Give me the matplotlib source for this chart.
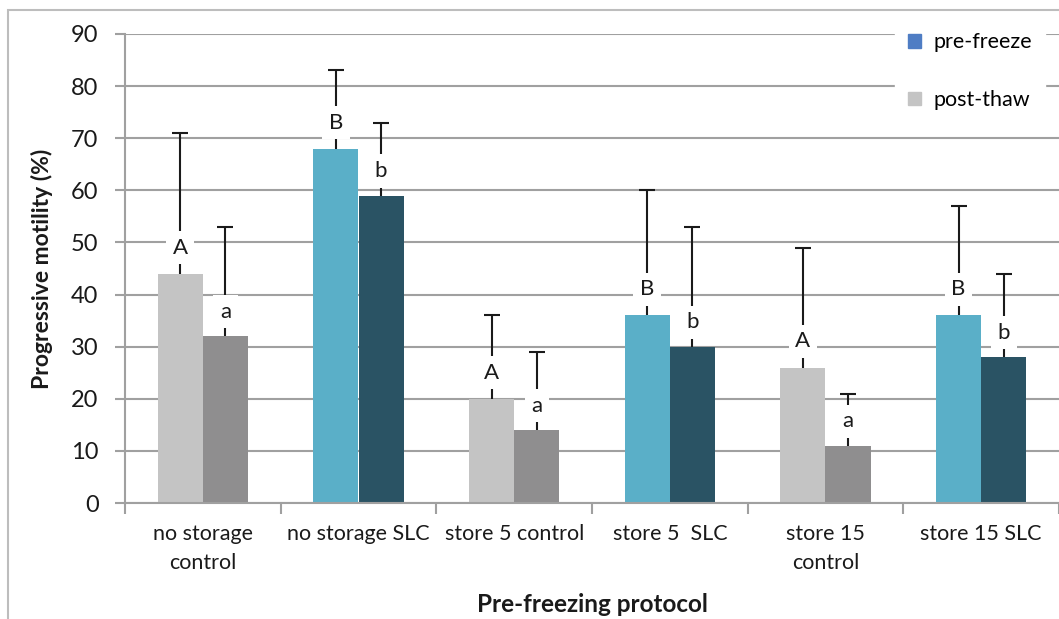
import numpy as np
import matplotlib.pyplot as plt
from matplotlib.patches import Patch, Rectangle

plt.rcParams['font.family'] = ['Lato', 'DejaVu Sans']

# === data ===
categories = ["no storage\ncontrol", "no storage SLC", "store 5 control",
              "store 5  SLC", "store 15\ncontrol", "store 15 SLC"]
pre_freeze = [44, 68, 20, 36, 26, 36]
post_thaw = [32, 59, 14, 30, 11, 28]
pre_err = [27, 15, 16, 24, 23, 21]
post_err = [21, 14, 15, 23, 10, 16]
pre_letters = ["A", "B", "A", "B", "A", "B"]
post_letters = ["a", "b", "a", "b", "a", "b"]

# colours: control groups grey, SLC groups blue
pre_colors = ["#c4c4c4", "#5aafc8", "#c4c4c4", "#5aafc8", "#c4c4c4", "#5aafc8"]
post_colors = ["#8f8e8f", "#2a5364", "#8f8e8f", "#2a5364", "#8f8e8f", "#2a5364"]

fig = plt.figure(figsize=(10.59, 6.19), dpi=100)
fig.patches.append(Rectangle((8 / 1059, -0.1), 1.2, 1 - 10 / 619 + 0.1,
                             transform=fig.transFigure, fill=False,
                             edgecolor="#bdbdbd", lw=1.5))
ax = fig.add_axes([125 / 1059, 1 - 503 / 619, 1 - 125 / 1059, (503 - 34) / 619])

x = np.arange(len(categories))
w = 0.29
ax.bar(x - w / 2, pre_freeze, w, color=pre_colors, zorder=2)
ax.bar(x + w / 2, post_thaw, w, color=post_colors, zorder=2)

# upper-only error bars: hide the lower caps
for xs, vals, errs in [(x - w / 2, pre_freeze, pre_err), (x + w / 2, post_thaw, post_err)]:
    eb = ax.errorbar(xs, vals, yerr=[np.zeros(len(xs)), errs], fmt="none",
                     ecolor="#1a1a1a", elinewidth=1.5, capsize=6, capthick=1.5, zorder=3)
    eb[1][0].set_visible(False)

box = dict(boxstyle="square,pad=0.3", fc="white", ec="none")
for i in range(len(x)):
    ax.text(x[i] - w / 2, pre_freeze[i] + 5, pre_letters[i], ha="center", va="center",
            fontsize=16, color="#1a1a1a", bbox=box, zorder=4)
    ax.text(x[i] + w / 2, post_thaw[i] + 4.7, post_letters[i], ha="center", va="center",
            fontsize=16, color="#1a1a1a", bbox=box, zorder=4)

ax.set_xlim(-0.5, len(x) - 0.5)
ax.set_ylim(0, 90)
ax.set_yticks(range(0, 91, 10))
ax.set_xticks(x)
ax.set_xticklabels(categories, fontsize=15.5, color="#1a1a1a", linespacing=1.6)
ax.set_xticks(np.arange(-0.5, len(x)), minor=True)
ax.tick_params(axis="x", which="major", length=0, pad=15)
ax.tick_params(axis="x", which="minor", length=8, width=1.5, color="#a0a0a0")
ax.tick_params(axis="y", length=7, width=1.5, color="#a0a0a0", labelsize=17,
               labelcolor="#1a1a1a", pad=12)

ax.grid(axis="y", color="#a0a0a0", lw=1.5, zorder=0)
ax.set_axisbelow(True)
for s in ["top", "right"]:
    ax.spines[s].set_visible(False)
for s in ["left", "bottom"]:
    ax.spines[s].set_color("#a0a0a0")
    ax.spines[s].set_linewidth(1.5)

ax.set_ylabel("Progressive motility (%)", fontsize=16.5, fontweight="bold",
              color="#1a1a1a", labelpad=13)
ax.set_xlabel("Pre-freezing protocol", fontsize=17.5, fontweight="bold",
              color="#1a1a1a", labelpad=14)

handles = [Patch(color="#4f7dc4", label="pre-freeze"),
           Patch(color="#c4c4c4", label="post-thaw")]
leg = ax.legend(handles=handles, loc="upper right", bbox_to_anchor=(0.99, 1.04),
                fontsize=15.5, frameon=True, fancybox=False, framealpha=1,
                edgecolor="white", labelspacing=1.75, handlelength=0.6,
                handleheight=0.6, handletextpad=0.6, borderpad=0.6,
                borderaxespad=0.2)
leg.set_zorder(5)

fig.savefig("out.png", dpi=100)
